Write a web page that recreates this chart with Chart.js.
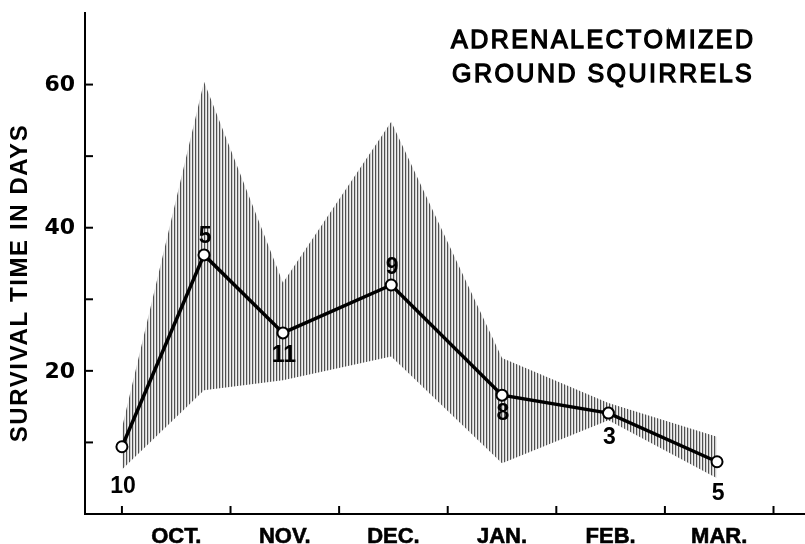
<!DOCTYPE html>
<html><head><meta charset="utf-8">
<script src="https://cdn.jsdelivr.net/npm/chart.js@4.4.0/dist/chart.umd.min.js"></script>
<style>html,body{margin:0;padding:0;background:#fff;overflow:hidden}#wrap{width:805px;height:544px;position:relative}</style>
</head><body><div id="wrap"><canvas id="c" width="805" height="544"></canvas></div>
<script>
// ---- data ----
const months = ['OCT.', 'NOV.', 'DEC.', 'JAN.', 'FEB.', 'MAR.'];
const sampleMonth = [0, 0.756, 1.483, 2.48, 3.5, 4.48, 5.48];      // months after Oct 1
const meanSurvival = [9.4, 36.2, 25.3, 32.0, 16.6, 14.1, 7.3];      // days
const rangeUpper = [12.0, 60.4, 32.3, 54.8, 21.8, 15.5, 10.8];
const rangeLower = [6.2, 17.3, 18.7, 22.0, 7.1, 13.1, 5.0];
const animalCounts = ['10', '5', '11', '9', '8', '3', '5'];
const yTickValues = [10, 20, 30, 40, 50, 60];
const yTickLabels = [20, 40, 60];
const monthBoundaries = [0, 1, 2, 3, 4, 5, 6];
const titleLines = ['ADRENALECTOMIZED', 'GROUND SQUIRRELS'];
const yAxisTitle = 'SURVIVAL TIME IN DAYS';

// label placement (pixels relative to the point)
const countOffsets = [39, -19, 22, -18, 17, 24, 31];

const canvas = document.getElementById('c');
const pc = document.createElement('canvas'); pc.width = 3; pc.height = 1;
const pctx = pc.getContext('2d');
['#505050', '#cdcdcd', '#f0f0f0'].forEach((c, i) => { pctx.fillStyle = c; pctx.fillRect(i, 0, 1, 1); });
const hatch = canvas.getContext('2d').createPattern(pc, 'repeat');

const pts = arr => sampleMonth.map((x, i) => ({x, y: arr[i]}));

function spacedText(ctx, text, x, y, targetWidth) {
  ctx.letterSpacing = '0px';
  const w = ctx.measureText(text).width;
  const sp = targetWidth ? (targetWidth - w) / (text.length - 1) : 0;
  ctx.letterSpacing = sp + 'px';
  ctx.fillText(text, x, y);
  ctx.letterSpacing = '0px';
  return sp;
}

const decor = {
  id: 'decor',
  afterDraw(chart) {
    const {ctx, chartArea: a, scales: {x, y}} = chart;
    ctx.save();
    ctx.strokeStyle = '#000'; ctx.lineWidth = 2;
    monthBoundaries.forEach(v => {
      const px = x.getPixelForValue(v);
      ctx.beginPath(); ctx.moveTo(px, a.bottom); ctx.lineTo(px, a.bottom - 8); ctx.stroke();
    });
    yTickValues.forEach(v => {
      const py = y.getPixelForValue(v);
      ctx.beginPath(); ctx.moveTo(a.left, py); ctx.lineTo(a.left + 8, py); ctx.stroke();
    });
    ctx.fillStyle = '#000';
    // y tick labels
    ctx.font = 'bold 22px "DejaVu Sans"';
    ctx.textAlign = 'right'; ctx.textBaseline = 'middle';
    yTickLabels.forEach(v => ctx.fillText(String(v), a.left - 10, y.getPixelForValue(v) + 1));
    // month labels
    ctx.font = 'bold 22px "Liberation Sans"';
    ctx.textAlign = 'center'; ctx.textBaseline = 'alphabetic';
    ctx.lineWidth = 0.6;
    months.forEach((m, i) => {
      ctx.fillText(m, x.getPixelForValue(i + 0.5), 543);
      ctx.strokeText(m, x.getPixelForValue(i + 0.5), 543);
    });
    // counts
    ctx.font = 'bold 23px "Liberation Sans"';
    ctx.textAlign = 'center'; ctx.textBaseline = 'middle';
    animalCounts.forEach((n, i) => {
      ctx.fillText(n, x.getPixelForValue(sampleMonth[i]) + 1, y.getPixelForValue(meanSurvival[i]) + countOffsets[i] + 1);
    });
    // y axis title
    ctx.save();
    ctx.translate(27, 283); ctx.rotate(-Math.PI / 2);
    ctx.font = 'bold 24px "Liberation Sans"';
    ctx.textAlign = 'center'; ctx.textBaseline = 'alphabetic';
    spacedText(ctx, yAxisTitle, 0, 0, 317);
    ctx.restore();
    // title
    ctx.font = '25px "Liberation Sans"';
    ctx.textAlign = 'left'; ctx.textBaseline = 'alphabetic';
    ctx.lineWidth = 1.3; ctx.strokeStyle = '#000';
    ctx.letterSpacing = '0px';
    const w0 = ctx.measureText(titleLines[0]).width;
    const sp = (302 - w0) / (titleLines[0].length - 1);
    ctx.letterSpacing = sp + 'px';
    ctx.fillText(titleLines[0], 451, 48); ctx.strokeText(titleLines[0], 451, 48);
    ctx.fillText(titleLines[1], 452, 82); ctx.strokeText(titleLines[1], 452, 82);
    ctx.letterSpacing = '0px';
    ctx.restore();
  }
};

new Chart(canvas, {
  type: 'line',
  data: {
    datasets: [
      {label: 'mean', data: pts(meanSurvival), borderColor: '#000', borderWidth: 3.5, tension: 0,
       pointRadius: 5.5, pointBorderWidth: 2, pointBorderColor: '#000', pointBackgroundColor: '#fff', fill: false},
      {label: 'upper', data: pts(rangeUpper), borderWidth: 0, borderColor: 'rgba(0,0,0,0)', pointRadius: 0,
       fill: '+1', backgroundColor: hatch, tension: 0},
      {label: 'lower', data: pts(rangeLower), borderWidth: 0, borderColor: 'rgba(0,0,0,0)', pointRadius: 0,
       fill: false, tension: 0}
    ]
  },
  options: {
    responsive: false, animation: false, devicePixelRatio: 1,
    layout: {autoPadding: false, padding: {top: 13, right: 0, left: 0, bottom: 0}},
    plugins: {legend: {display: false}, tooltip: {enabled: false}},
    scales: {
      x: {type: 'linear', min: -0.34, max: 6.29,
          grid: {display: true, drawOnChartArea: false, drawTicks: false},
          border: {display: true, color: '#000', width: 2},
          ticks: {display: false}, afterFit(s) { s.height = 30; }},
      y: {type: 'linear', min: 0, max: 70,
          grid: {display: true, drawOnChartArea: false, drawTicks: false},
          border: {display: true, color: '#000', width: 2},
          ticks: {display: false}, afterFit(s) { s.width = 85; }}
    }
  },
  plugins: [decor]
});
</script></body></html>
